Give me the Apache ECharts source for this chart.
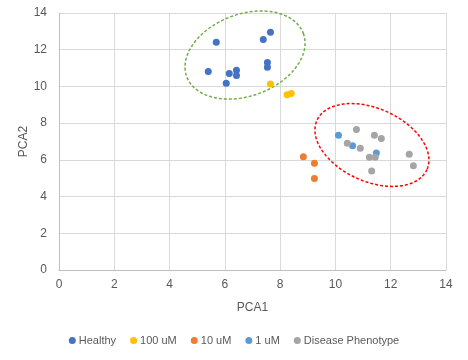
<!DOCTYPE html>
<html><head><meta charset="utf-8">
<script src="https://cdn.jsdelivr.net/npm/echarts@6/dist/echarts.min.js"></script>
<style>html,body{margin:0;padding:0;background:#fff}#c{width:468px;height:360px}</style>
</head><body><div id="c"></div>
<script>
var seriesNames = ['Healthy', '100 uM', '10 uM', '1 uM', 'Disease Phenotype'];
var healthy = [[7.65,12.95],[7.39,12.55],[5.69,12.40],[5.40,10.82],[6.16,10.71],[6.42,10.88],[6.42,10.60],[6.05,10.17],[7.54,11.31],[7.54,11.04]];
var uM100 = [[7.65,10.13],[8.25,9.55],[8.40,9.62]];
var uM10 = [[8.84,6.17],[9.24,5.81],[9.24,4.99]];
var uM1 = [[10.11,7.34],[10.62,6.77],[11.48,6.37]];
var disease = [[10.76,7.66],[10.43,6.90],[10.90,6.63],[11.41,7.34],[11.66,7.17],[11.23,6.14],[11.44,6.14],[11.31,5.39],[12.67,6.30],[12.82,5.68]];
var xTicks = [0,2,4,6,8,10,12,14];
var yTicks = [0,2,4,6,8,10,12,14];
// ellipse annotations: center (data), semi-axes (x-axis units), rotation (deg, screen)
var ellipseGreen = {cx: 6.73, cy: 11.71, a: 2.25, b: 1.48, rot: -20.4};
var ellipseRed = {cx: 11.32, cy: 6.81, a: 2.18, b: 1.32, rot: 24.1};

var colors = ['#4472C4','#FFC000','#ED7D31','#5B9BD5','#A5A5A5'];
var font = 'Liberation Sans, Arial, sans-serif';

function ellipseSeries(e, color) {
  return {
    type: 'custom', silent: true, z: 1,
    data: [[e.cx, e.cy]],
    renderItem: function (params, api) {
      var c = api.coord([api.value(0), api.value(1)]);
      var ux = api.size([1, 0])[0];
      var A = e.a * ux, B = e.b * ux, r = e.rot * Math.PI / 180;
      var pts = [];
      for (var i = 0; i <= 120; i++) {
        var t = i / 120 * 2 * Math.PI;
        var px = A * Math.cos(t), py = B * Math.sin(t);
        pts.push([c[0] + px * Math.cos(r) - py * Math.sin(r), c[1] + px * Math.sin(r) + py * Math.cos(r)]);
      }
      return {type: 'polyline', shape: {points: pts}, style: {stroke: color, lineWidth: 1.5, lineDash: [3, 2], fill: null}};
    }
  };
}

var chart = echarts.init(document.getElementById('c'));
var datasets = [healthy, uM100, uM10, uM1, disease];
var series = datasets.map(function (d, i) {
  return {name: seriesNames[i], type: 'scatter', data: d, symbolSize: 7, z: 3, itemStyle: {color: colors[i], opacity: 1}};
});
series.push(ellipseSeries(ellipseGreen, '#70AD47'));
series.push(ellipseSeries(ellipseRed, '#FF0000'));

chart.setOption({
  animation: false,
  grid: {left: 59, right: 22, top: 13, bottom: 90},
  xAxis: {
    type: 'value', min: xTicks[0], max: xTicks[xTicks.length - 1], interval: 2,
    name: 'PCA1', nameLocation: 'middle', nameGap: 32, nameMoveOverlap: false,
    nameTextStyle: {color: '#595959', fontSize: 12, fontFamily: font},
    axisLine: {show: true, lineStyle: {color: '#BFBFBF'}},
    axisTick: {show: false},
    axisLabel: {color: '#595959', fontSize: 12, fontFamily: font, margin: 9},
    splitLine: {show: true, lineStyle: {color: '#D9D9D9'}}
  },
  yAxis: {
    type: 'value', min: yTicks[0], max: yTicks[yTicks.length - 1], interval: 2,
    name: 'PCA2', nameLocation: 'middle', nameGap: 29, nameMoveOverlap: false,
    nameTextStyle: {color: '#595959', fontSize: 12, fontFamily: font},
    axisLine: {show: true, lineStyle: {color: '#BFBFBF'}},
    axisTick: {show: false},
    axisLabel: {color: '#595959', fontSize: 12, fontFamily: font, margin: 12},
    splitLine: {show: true, lineStyle: {color: '#D9D9D9'}}
  },
  legend: {
    data: seriesNames, bottom: 9, left: 'center', icon: 'circle',
    itemWidth: 7, itemHeight: 7, itemGap: 14,
    textStyle: {color: '#595959', fontSize: 11, fontFamily: font, padding: [0, 0, 0, -2]}
  },
  series: series
});
</script></body></html>
